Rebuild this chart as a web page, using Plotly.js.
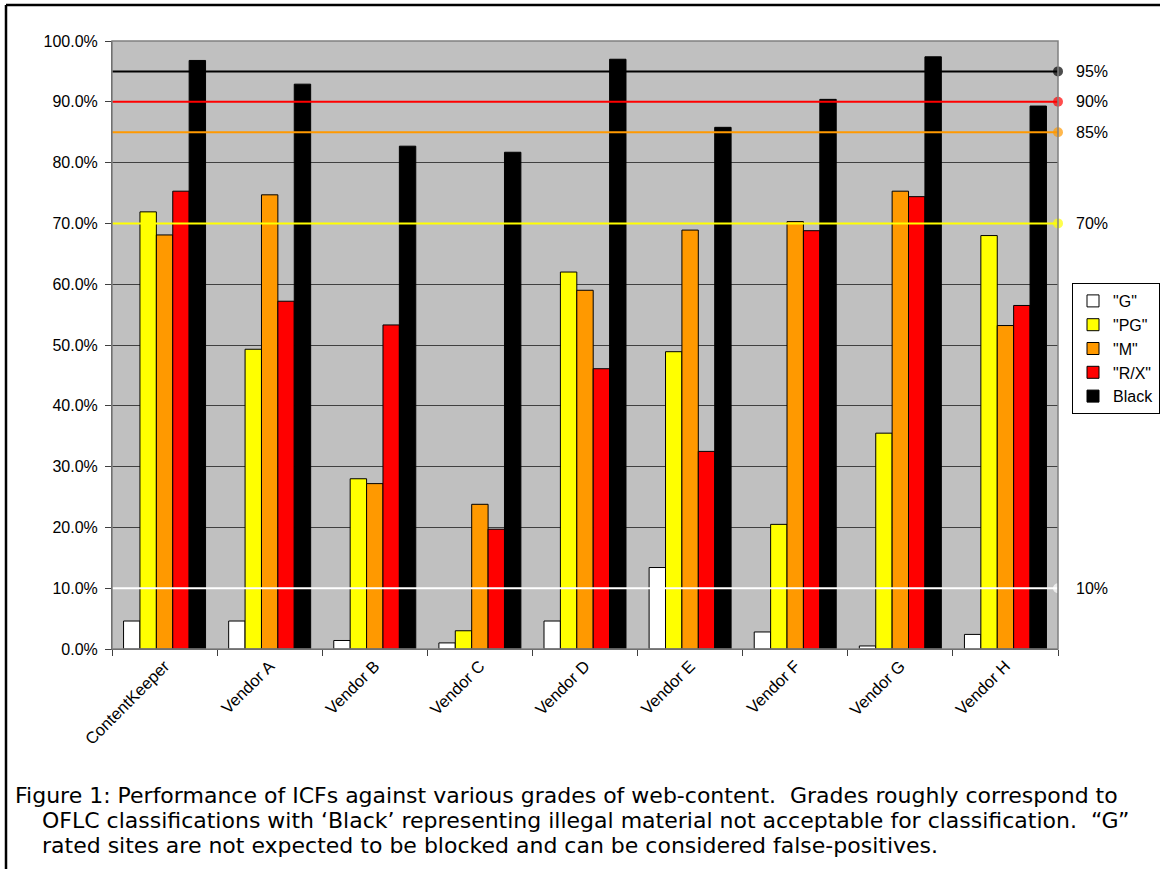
<!DOCTYPE html>
<html>
<head>
<meta charset="utf-8">
<script src="https://cdn.plot.ly/plotly-3.0.1.min.js"></script>
<style>html,body{margin:0;padding:0;background:#fff;}#chart{width:1160px;height:869px;}</style>
</head>
<body>
<div id="chart"></div>
<script>
// ---- data ----
var categories = ["ContentKeeper", "Vendor A", "Vendor B", "Vendor C", "Vendor D", "Vendor E", "Vendor F", "Vendor G", "Vendor H"];
var seriesNames = ["\"G\"", "\"PG\"", "\"M\"", "\"R/X\"", "Black"];
var gValues     = [0.046, 0.046, 0.014, 0.010, 0.046, 0.134, 0.028, 0.005, 0.024];
var pgValues    = [0.719, 0.493, 0.280, 0.030, 0.620, 0.489, 0.205, 0.355, 0.680];
var mValues     = [0.681, 0.747, 0.272, 0.238, 0.590, 0.689, 0.703, 0.753, 0.532];
var rxValues    = [0.753, 0.572, 0.533, 0.197, 0.461, 0.325, 0.688, 0.744, 0.565];
var blackValues = [0.968, 0.929, 0.827, 0.817, 0.970, 0.858, 0.904, 0.974, 0.893];
var seriesColors = ["#FFFFFF", "#FFFF00", "#FF9900", "#FF0000", "#000000"];
var thresholdValues = [0.95, 0.90, 0.85, 0.70, 0.10];
var thresholdLabels = ["95%", "90%", "85%", "70%", "10%"];
var thresholdColors = ["#000000", "#FF0000", "#FF9900", "#FFFF00", "#FFFFFF"];
var captionLines = [
  "Figure 1: Performance of ICFs against various grades of web-content. \u00a0Grades roughly correspond to",
  "OFLC classifications with \u2018Black\u2019 representing illegal material not acceptable for classification. \u00a0\u201cG\u201d",
  "rated sites are not expected to be blocked and can be considered false-positives."
];

// ---- layout geometry (pixels) ----
var W = 1160, H = 869;
var L = 112, R = 1058, T = 41, B = 649;
function px(x) { return (x - L) / (R - L); }
function py(y) { return (B - y) / (B - T); }

var allSeries = [gValues, pgValues, mValues, rxValues, blackValues];
var traces = [];
for (var i = 0; i < allSeries.length; i++) {
  traces.push({
    type: "bar",
    name: seriesNames[i],
    x: categories,
    y: allSeries[i],
    marker: { color: seriesColors[i], line: { color: "#000000", width: 1 } },
    hoverinfo: "x+y"
  });
}
for (var j = 0; j < thresholdValues.length; j++) {
  traces.push({
    type: "scatter",
    mode: "lines+markers",
    x: [0, 1],
    y: [thresholdValues[j], thresholdValues[j]],
    xaxis: "x2",
    line: { color: thresholdColors[j], width: 2 },
    marker: { size: [0, 10], color: thresholdColors[j], line: { width: 0 } },
    cliponaxis: false,
    showlegend: false,
    hoverinfo: "y"
  });
}

var annotations = [];
for (var k = 0; k < thresholdValues.length; k++) {
  annotations.push({
    xref: "paper", yref: "y",
    x: 1, y: thresholdValues[k],
    xshift: 16,
    xanchor: "left", yanchor: "middle",
    text: thresholdLabels[k],
    showarrow: false,
    font: { family: "Liberation Sans, Arial, sans-serif", size: 16, color: "#000" }
  });
}
var captionX = [13, 40, 40];
var captionY = [795, 820, 845];
for (var c = 0; c < captionLines.length; c++) {
  annotations.push({
    xref: "paper", yref: "paper",
    x: px(captionX[c]), y: py(captionY[c]),
    xanchor: "left", yanchor: "middle",
    text: captionLines[c],
    showarrow: false,
    font: { family: "DejaVu Sans, sans-serif", size: 22, color: "#000" }
  });
}

var shapes = [
  // plot area border
  { type: "rect", xref: "paper", yref: "paper", x0: 0, x1: 1, y0: 0, y1: 1,
    line: { color: "#808080", width: 1.5 }, layer: "above" },
  // figure frame: top and left
  { type: "line", xref: "paper", yref: "paper", x0: px(6), x1: px(1162), y0: py(5), y1: py(5),
    line: { color: "#000", width: 2.5 } },
  { type: "line", xref: "paper", yref: "paper", x0: px(6), x1: px(6), y0: py(5), y1: py(872),
    line: { color: "#000", width: 2.5 } }
];

var layout = {
  width: W, height: H,
  margin: { l: L, r: W - R, t: T, b: H - B, pad: 0, autoexpand: false },
  paper_bgcolor: "#FFFFFF",
  plot_bgcolor: "#C0C0C0",
  font: { family: "Liberation Sans, Arial, sans-serif", size: 16, color: "#000" },
  barmode: "group",
  bargap: 0.22,
  bargroupgap: 0,
  showlegend: true,
  legend: {
    x: px(1072), y: py(283), xanchor: "left", yanchor: "top",
    bgcolor: "#FFFFFF", bordercolor: "#000000", borderwidth: 1,
    font: { family: "Liberation Sans, Arial, sans-serif", size: 16, color: "#000" },
    itemwidth: 30, tracegroupgap: 0
  },
  xaxis: {
    type: "category",
    tickson: "boundaries",
    ticks: "outside", ticklen: 6, tickcolor: "#404040", tickwidth: 1,
    tickangle: -45,
    showline: true, linecolor: "#404040", linewidth: 1,
    showgrid: false,
    tickfont: { size: 16.5 }
  },
  xaxis2: {
    overlaying: "x", range: [0, 1], visible: false, fixedrange: true
  },
  yaxis: {
    range: [0, 1], dtick: 0.1, tickformat: ".1%",
    ticks: "outside", ticklen: 6, tickcolor: "#404040", tickwidth: 1,
    showline: true, linecolor: "#404040", linewidth: 1,
    showgrid: true, gridcolor: "#404040", gridwidth: 1,
    zeroline: false,
    ticklabelstandoff: 4,
    tickfont: { size: 16 }
  },
  shapes: shapes,
  annotations: annotations
};

Plotly.newPlot("chart", traces, layout, { displayModeBar: false });
</script>
</body>
</html>
